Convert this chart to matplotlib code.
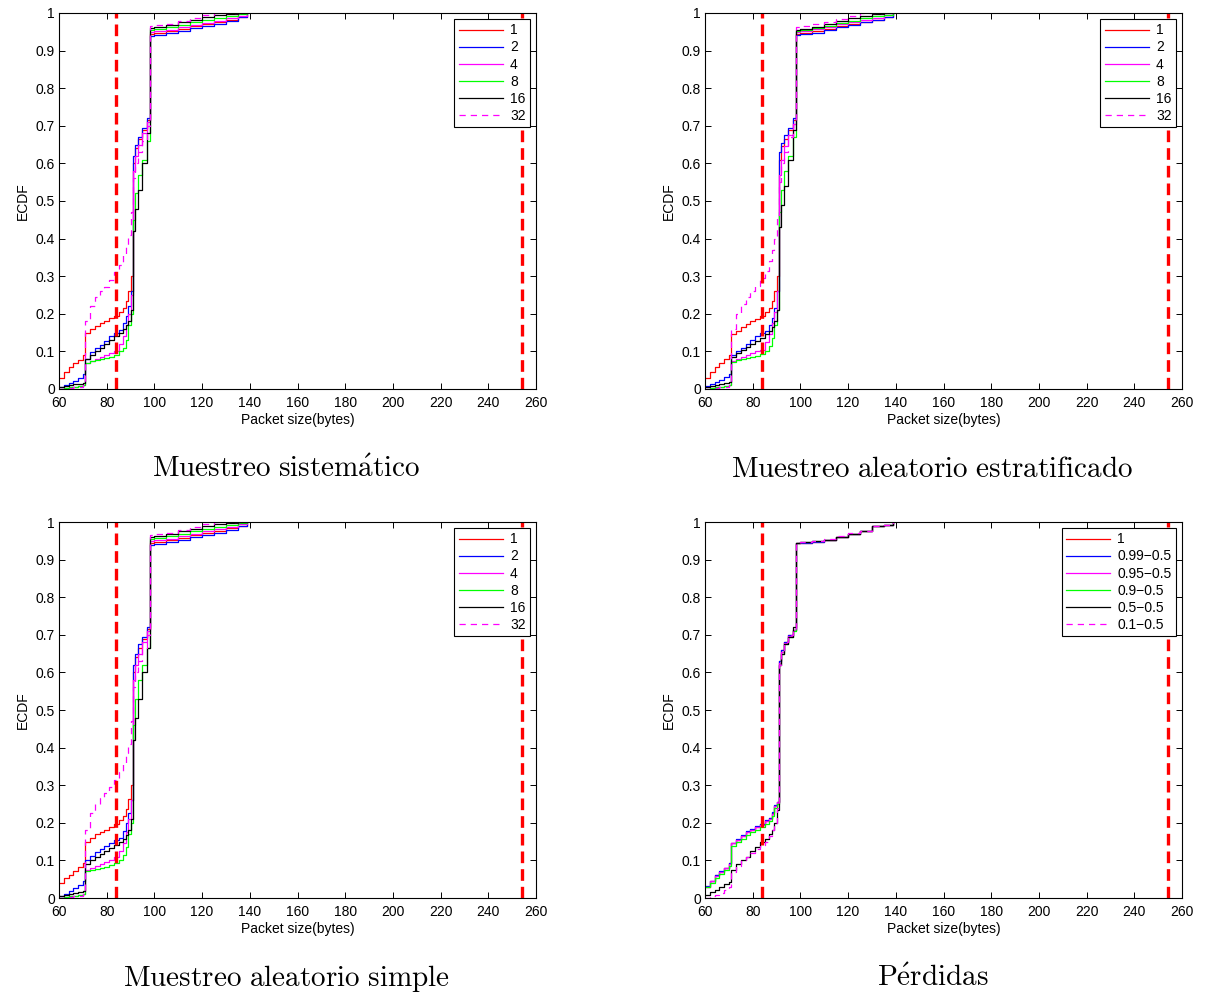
import matplotlib
matplotlib.use("Agg")
import matplotlib.pyplot as plt
import numpy as np

plt.rcParams['font.family'] = ['Liberation Sans', 'DejaVu Sans']
plt.rcParams['mathtext.fontset'] = 'cm'

# packet sizes (bytes) where the ECDF values are read
sizes = [60, 62, 64, 66, 68, 70, 71, 73, 75, 77, 79, 81, 83, 85, 87, 88, 89,
         90, 91, 92, 93, 95, 97, 98, 100, 105, 110, 115, 120, 125, 130, 135, 139]

# muestreo sistematico
sys_1 = [0.03, 0.045, 0.058, 0.068, 0.078, 0.09, 0.15, 0.16, 0.168, 0.175, 0.18, 0.188, 0.195, 0.205, 0.215, 0.235, 0.26,
         0.30, 0.60, 0.64, 0.665, 0.69, 0.715, 0.945, 0.947, 0.952, 0.958, 0.965, 0.97, 0.975, 0.982, 0.99, 1.0]
sys_2 = [0.005, 0.01, 0.015, 0.022, 0.03, 0.04, 0.08, 0.098, 0.108, 0.118, 0.128, 0.14, 0.15, 0.158, 0.175, 0.195, 0.22,
         0.26, 0.62, 0.65, 0.67, 0.695, 0.72, 0.94, 0.942, 0.946, 0.952, 0.96, 0.966, 0.972, 0.98, 0.99, 1.0]
sys_4 = [0.0, 0.002, 0.004, 0.006, 0.008, 0.01, 0.07, 0.075, 0.08, 0.085, 0.09, 0.095, 0.1, 0.12, 0.14, 0.17, 0.2,
         0.25, 0.58, 0.62, 0.65, 0.68, 0.71, 0.95, 0.952, 0.956, 0.962, 0.968, 0.974, 0.98, 0.986, 0.993, 1.0]
sys_8 = [0.0, 0.002, 0.004, 0.006, 0.008, 0.01, 0.07, 0.075, 0.078, 0.08, 0.082, 0.085, 0.09, 0.1, 0.11, 0.13, 0.17,
         0.2, 0.45, 0.52, 0.57, 0.61, 0.66, 0.955, 0.957, 0.962, 0.968, 0.975, 0.982, 0.988, 0.993, 0.997, 1.0]
sys_16 = [0.005, 0.008, 0.01, 0.012, 0.014, 0.016, 0.08, 0.09, 0.1, 0.11, 0.12, 0.13, 0.14, 0.15, 0.16, 0.17, 0.18,
          0.21, 0.42, 0.48, 0.53, 0.6, 0.68, 0.96, 0.962, 0.968, 0.975, 0.982, 0.99, 0.995, 0.998, 1.0, 1.0]
sys_32 = [0.0, 0.0, 0.002, 0.004, 0.006, 0.01, 0.18, 0.22, 0.245, 0.26, 0.27, 0.29, 0.31, 0.33, 0.36, 0.38, 0.41,
          0.47, 0.56, 0.6, 0.63, 0.66, 0.7, 0.965, 0.967, 0.972, 0.98, 0.988, 0.995, 1.0, 1.0, 1.0, 1.0]

# muestreo aleatorio estratificado
str_1 = [0.03, 0.045, 0.058, 0.068, 0.08, 0.09, 0.145, 0.155, 0.165, 0.172, 0.18, 0.187, 0.195, 0.205, 0.215, 0.235, 0.26,
         0.3, 0.61, 0.645, 0.665, 0.69, 0.715, 0.945, 0.947, 0.952, 0.958, 0.965, 0.97, 0.975, 0.982, 0.99, 1.0]
str_2 = [0.008, 0.012, 0.018, 0.025, 0.032, 0.04, 0.09, 0.1, 0.11, 0.12, 0.13, 0.14, 0.148, 0.155, 0.17, 0.19, 0.215,
         0.26, 0.63, 0.655, 0.675, 0.695, 0.72, 0.942, 0.944, 0.948, 0.955, 0.962, 0.968, 0.975, 0.982, 0.99, 1.0]
str_4 = [0.0, 0.002, 0.004, 0.006, 0.008, 0.01, 0.075, 0.08, 0.085, 0.09, 0.095, 0.1, 0.105, 0.125, 0.145, 0.175, 0.205,
         0.26, 0.57, 0.61, 0.645, 0.675, 0.705, 0.95, 0.952, 0.957, 0.963, 0.97, 0.976, 0.982, 0.988, 0.994, 1.0]
str_8 = [0.0, 0.002, 0.004, 0.006, 0.008, 0.01, 0.072, 0.076, 0.08, 0.082, 0.085, 0.088, 0.092, 0.1, 0.115, 0.135, 0.17,
         0.21, 0.47, 0.53, 0.58, 0.62, 0.67, 0.952, 0.955, 0.96, 0.966, 0.973, 0.98, 0.986, 0.992, 0.996, 1.0]
str_16 = [0.005, 0.008, 0.01, 0.012, 0.015, 0.018, 0.085, 0.095, 0.105, 0.112, 0.12, 0.128, 0.135, 0.145, 0.155, 0.165, 0.18,
          0.21, 0.43, 0.49, 0.54, 0.61, 0.69, 0.955, 0.958, 0.964, 0.972, 0.98, 0.987, 0.993, 0.997, 1.0, 1.0]
str_32 = [0.0, 0.0, 0.002, 0.004, 0.006, 0.01, 0.16, 0.2, 0.225, 0.245, 0.26, 0.275, 0.295, 0.315, 0.34, 0.37, 0.4,
          0.46, 0.55, 0.6, 0.63, 0.67, 0.705, 0.962, 0.965, 0.97, 0.975, 0.985, 0.993, 1.0, 1.0, 1.0, 1.0]

# muestreo aleatorio simple
sim_1 = [0.04, 0.052, 0.062, 0.072, 0.082, 0.092, 0.15, 0.16, 0.17, 0.176, 0.182, 0.19, 0.198, 0.207, 0.218, 0.238, 0.262,
         0.3, 0.6, 0.64, 0.665, 0.69, 0.715, 0.945, 0.947, 0.952, 0.958, 0.965, 0.97, 0.976, 0.983, 0.99, 1.0]
sim_2 = [0.005, 0.01, 0.018, 0.026, 0.035, 0.045, 0.1, 0.112, 0.122, 0.13, 0.138, 0.146, 0.153, 0.16, 0.178, 0.2, 0.225,
         0.26, 0.62, 0.65, 0.675, 0.695, 0.72, 0.94, 0.942, 0.947, 0.953, 0.96, 0.966, 0.972, 0.98, 0.99, 1.0]
sim_4 = [0.0, 0.002, 0.004, 0.006, 0.008, 0.01, 0.075, 0.08, 0.085, 0.09, 0.095, 0.1, 0.108, 0.125, 0.145, 0.175, 0.21,
         0.26, 0.58, 0.62, 0.65, 0.68, 0.71, 0.95, 0.952, 0.956, 0.962, 0.968, 0.975, 0.981, 0.987, 0.994, 1.0]
sim_8 = [0.0, 0.002, 0.004, 0.006, 0.008, 0.01, 0.072, 0.075, 0.078, 0.08, 0.083, 0.087, 0.092, 0.1, 0.115, 0.135, 0.17,
         0.2, 0.46, 0.53, 0.58, 0.62, 0.665, 0.955, 0.957, 0.962, 0.968, 0.975, 0.982, 0.988, 0.993, 0.997, 1.0]
sim_16 = [0.005, 0.008, 0.01, 0.012, 0.015, 0.018, 0.09, 0.1, 0.108, 0.116, 0.124, 0.132, 0.14, 0.148, 0.158, 0.168, 0.18,
          0.21, 0.42, 0.48, 0.53, 0.6, 0.665, 0.96, 0.962, 0.968, 0.975, 0.982, 0.99, 0.995, 0.998, 1.0, 1.0]
sim_32 = [0.0, 0.0, 0.002, 0.004, 0.006, 0.01, 0.18, 0.225, 0.25, 0.265, 0.28, 0.295, 0.315, 0.335, 0.36, 0.385, 0.41,
          0.47, 0.56, 0.6, 0.63, 0.665, 0.7, 0.965, 0.967, 0.972, 0.98, 0.988, 0.995, 1.0, 1.0, 1.0, 1.0]

# perdidas
loss_1 = [0.03, 0.045, 0.06, 0.07, 0.08, 0.092, 0.145, 0.155, 0.165, 0.176, 0.182, 0.19, 0.196, 0.205, 0.212, 0.225, 0.245,
          0.255, 0.63, 0.66, 0.68, 0.7, 0.713, 0.943, 0.945, 0.948, 0.952, 0.96, 0.968, 0.975, 0.99, 0.992, 1.0]
loss_099 = [0.032, 0.046, 0.06, 0.071, 0.081, 0.092, 0.147, 0.157, 0.167, 0.178, 0.184, 0.192, 0.198, 0.207, 0.214, 0.228, 0.248,
            0.256, 0.63, 0.66, 0.68, 0.7, 0.713, 0.943, 0.945, 0.948, 0.952, 0.96, 0.968, 0.975, 0.99, 0.992, 1.0]
loss_095 = [0.03, 0.044, 0.058, 0.069, 0.079, 0.09, 0.145, 0.154, 0.164, 0.175, 0.181, 0.189, 0.195, 0.204, 0.211, 0.224, 0.245,
            0.255, 0.625, 0.655, 0.678, 0.698, 0.712, 0.944, 0.946, 0.949, 0.953, 0.96, 0.969, 0.976, 0.99, 0.992, 1.0]
loss_09 = [0.028, 0.04, 0.054, 0.065, 0.075, 0.086, 0.138, 0.148, 0.158, 0.168, 0.175, 0.182, 0.188, 0.197, 0.205, 0.218, 0.24,
           0.25, 0.62, 0.65, 0.675, 0.695, 0.71, 0.944, 0.946, 0.949, 0.953, 0.961, 0.969, 0.976, 0.99, 0.992, 1.0]
loss_05 = [0.008, 0.015, 0.022, 0.03, 0.037, 0.043, 0.075, 0.09, 0.1, 0.11, 0.125, 0.135, 0.148, 0.158, 0.17, 0.18, 0.2,
           0.235, 0.62, 0.65, 0.675, 0.695, 0.72, 0.944, 0.946, 0.949, 0.953, 0.96, 0.968, 0.975, 0.99, 0.992, 1.0]
loss_01 = [0.0, 0.004, 0.008, 0.013, 0.02, 0.03, 0.07, 0.085, 0.1, 0.11, 0.12, 0.13, 0.14, 0.15, 0.165, 0.18, 0.2,
           0.24, 0.62, 0.655, 0.68, 0.7, 0.715, 0.945, 0.947, 0.95, 0.955, 0.962, 0.97, 0.976, 0.99, 0.993, 1.0]

rate_labels = ['1', '2', '4', '8', '16', '32']
loss_labels = ['1', '0.99\u22120.5', '0.95\u22120.5', '0.9\u22120.5', '0.5\u22120.5', '0.1\u22120.5']

# tamanos de referencia marcados con lineas rojas
limits = [84, 254]

# colores tipo matlab: r, b, m, g, k y m discontinua
styles = [('#ff0000', '-'), ('#0000ff', '-'), ('#ff00ff', '-'), ('#00ff00', '-'), ('#000000', '-'), ('#ff00ff', '--')]

panels = [
    ([sys_1, sys_2, sys_4, sys_8, sys_16, sys_32], rate_labels,
     r'$\mathrm{Muestreo\ sistem\acute{a}tico}$'),
    ([str_1, str_2, str_4, str_8, str_16, str_32], rate_labels,
     r'$\mathrm{Muestreo\ aleatorio\ estratificado}$'),
    ([sim_1, sim_2, sim_4, sim_8, sim_16, sim_32], rate_labels,
     r'$\mathrm{Muestreo\ aleatorio\ simple}$'),
    ([loss_1, loss_099, loss_095, loss_09, loss_05, loss_01], loss_labels,
     r'$\mathrm{P\acute{e}rdidas}$'),
]

W, H = 1205, 994
fig = plt.figure(figsize=(W / 100, H / 100), dpi=100)

# left, top (pixels) of every axes box
boxes = [(59, 13), (705, 13), (59, 522), (705, 522)]
aw, ah = 477, 376

for (series, labels, caption), (left, top) in zip(panels, boxes):
    ax = fig.add_axes([left / W, 1 - (top + ah) / H, aw / W, ah / H])
    for vals, (c, ls), lab in zip(series, styles, labels):
        ax.plot(sizes, vals, color=c, linestyle=ls, lw=0.9, drawstyle='steps-post', label=lab,
                dashes=(5, 4) if ls == '--' else (None, None))
    for x in limits:
        ax.axvline(x, color='r', lw=2.4, linestyle=(0, (3.5, 1.8)))
    ax.set_xlim(60, 260)
    ax.set_ylim(0, 1)
    ax.set_xticks(np.arange(60, 261, 20))
    ax.set_yticks(np.linspace(0, 1, 11))
    ax.set_yticklabels(['%g' % v for v in np.round(np.linspace(0, 1, 11), 1)])
    ax.tick_params(direction='in', top=True, right=True, length=4, width=0.7, labelsize=10)
    ax.tick_params(axis='x', pad=5)
    ax.tick_params(axis='y', pad=3)
    for s in ax.spines.values():
        s.set_linewidth(0.8)
    ax.set_xlabel('Packet size(bytes)', fontsize=10, labelpad=2)
    ax.set_ylabel('ECDF', fontsize=10, labelpad=4)
    leg = ax.legend(loc='upper right', fontsize=10, handlelength=3.2, labelspacing=0.22,
                    borderaxespad=0.45, borderpad=0.3, handletextpad=0.5, fancybox=False,
                    framealpha=1, edgecolor='k')
    leg.get_frame().set_linewidth(0.8)
    fig.text((left + aw / 2 - 11) / W, 1 - (top + ah + 80) / H, caption, fontsize=21,
             ha='center', va='center')

fig.savefig('out.png', dpi=100)
